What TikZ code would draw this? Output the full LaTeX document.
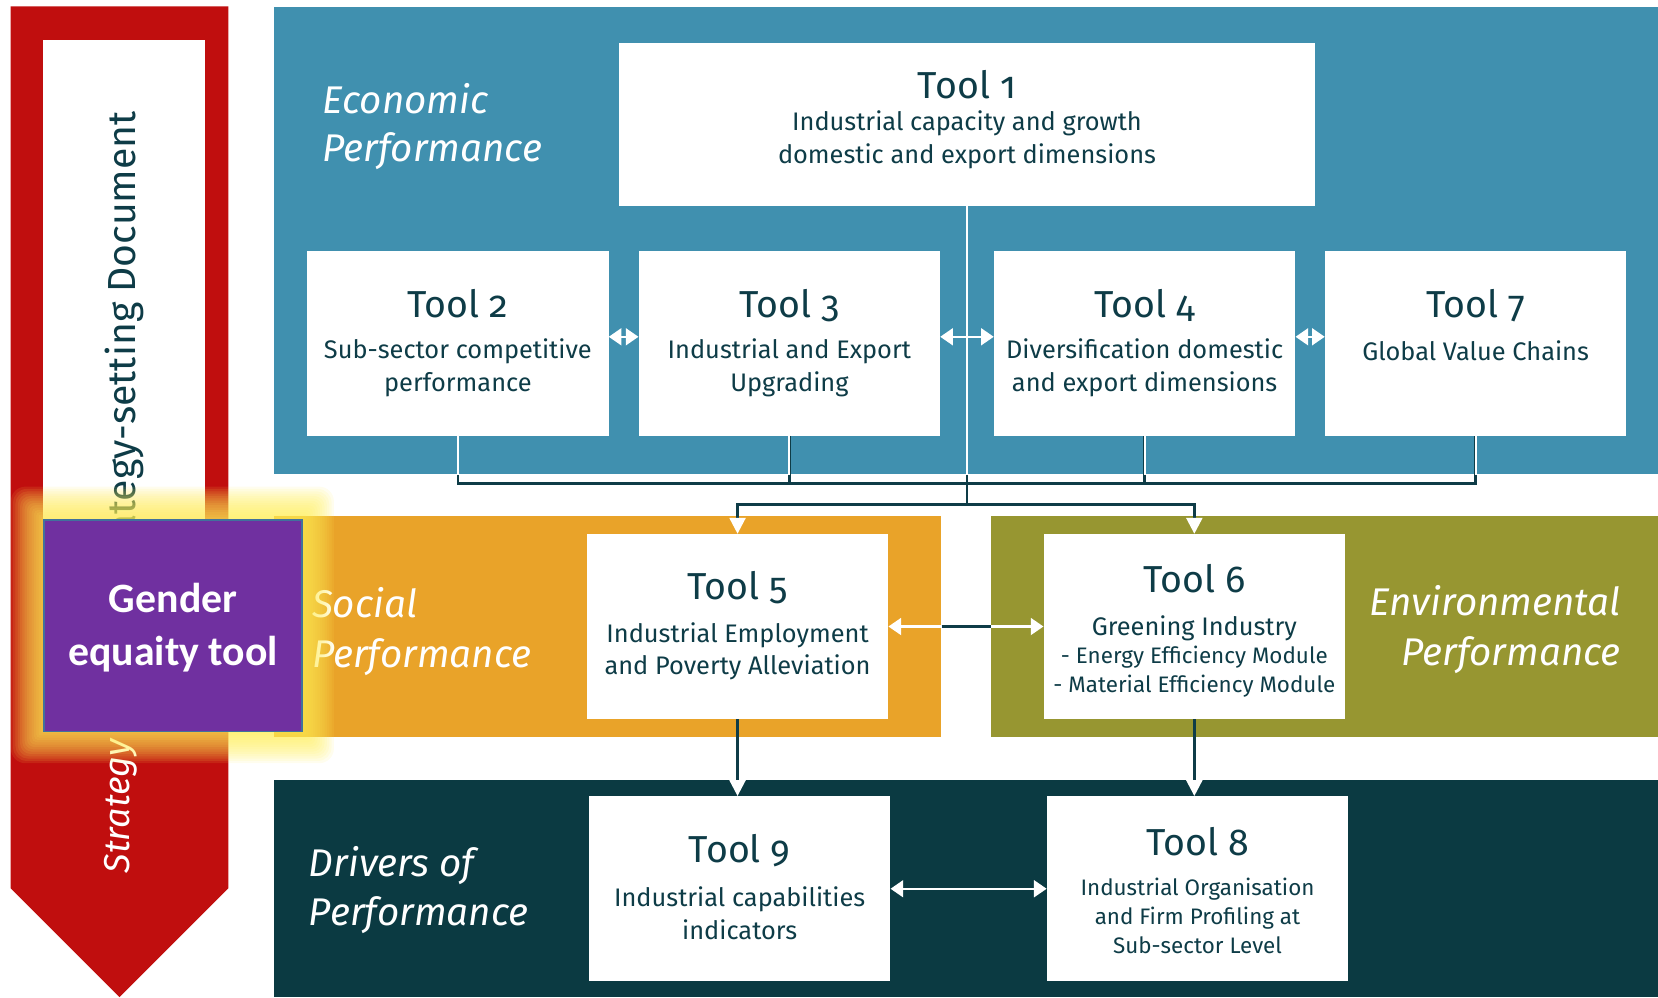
\documentclass[tikz,border=0pt]{standalone}
\usepackage{fontspec}
\setmainfont{Fira Sans}[Numbers=OldStyle]
\newfontfamily\calib{Carlito}
\usetikzlibrary{arrows.meta}
\definecolor{blueP}{HTML}{4090AF}
\definecolor{orangeP}{HTML}{E9A329}
\definecolor{oliveP}{HTML}{979631}
\definecolor{drivP}{HTML}{0B3A42}
\definecolor{redA}{HTML}{C00E0E}
\definecolor{tdark}{HTML}{0E3C47}
\definecolor{purpleG}{HTML}{7030A0}
\definecolor{purpB}{HTML}{41719C}
\definecolor{glowY}{HTML}{FFEE55}
\begin{document}
\begin{tikzpicture}[x=1pt,y=-1pt,
  panel/.style={inner sep=0pt, anchor=north west},
  box/.style={fill=white, inner sep=0pt, minimum width=285pt, minimum height=175pt},
  ttl/.style={text=tdark, font=\fontsize{35.5}{42}\selectfont, anchor=base, inner sep=0pt},
  body/.style={text=tdark, font=\fontsize{24}{31}\selectfont, align=center, inner sep=0pt},
  smallbody/.style={text=tdark, font=\fontsize{21.2}{27.5}\selectfont, align=center, inner sep=0pt},
  lab/.style={text=white, font=\itshape\fontsize{36.5}{46}\selectfont, inner sep=0pt},
  conn/.style={draw=tdark, line width=2.4pt},
  wline/.style={draw=white, line width=2pt},
  wtip/.style={-{Triangle[width=15pt,length=15pt,color=white]}},
  dtip/.style={{Triangle[width=16pt,length=12pt,color=white]}-{Triangle[width=16pt,length=12pt,color=white]}},
]
\useasboundingbox (0,0) rectangle (1568,943);
% panels
\node[panel, fill=blueP, minimum width=1309pt, minimum height=442pt] (econ) at (259,6) {};
\node[panel, fill=orangeP, minimum width=631pt, minimum height=209pt] (social) at (259,488) {};
\node[panel, fill=oliveP, minimum width=631pt, minimum height=209pt] (env) at (937,488) {};
\node[panel, fill=drivP, minimum width=1309pt, minimum height=206pt] (driv) at (259,737) {};
% red arrow
\fill[redA] (10,6) -- (216,6) -- (216,840) -- (113,943) -- (10,840) -- cycle;
\fill[white] (41,38) rectangle (194,600);
\node[rotate=90, anchor=base east, text=tdark, font=\fontsize{37}{40}\selectfont, inner sep=0pt] (doc) at (128,105) {Strategy-setting Document};
\node[rotate=90, anchor=base west, text=white, font=\itshape\fontsize{34}{40}\selectfont, inner sep=0pt] (strat) at (122,826) {Strategy};
% panel labels
\node[lab, anchor=base west] (ecoA) at (305,107) {Economic};
\node[lab, anchor=base west] (ecoB) at (305,153) {Performance};
\node[lab, anchor=base west] (socA) at (295,584) {Social};
\node[lab, anchor=base west] (socB) at (295,631) {Performance};
\node[lab, anchor=base east] (envA) at (1533,582) {Environmental};
\node[lab, anchor=base east] (envB) at (1533,629) {Performance};
\node[lab, anchor=base west] (drvA) at (292,829) {Drivers of};
\node[lab, anchor=base west] (drvB) at (292,875) {Performance};
% tool boxes
\node[box, minimum width=659pt, minimum height=154pt] (t1) at (914.5,118) {};
\node[box] (t2) at (433,324.5) {};
\node[box] (t3) at (746.5,324.5) {};
\node[box] (t4) at (1082.5,324.5) {};
\node[box] (t7) at (1395.5,324.5) {};
\node[box] (t5) at (697.5,592.5) {};
\node[box] (t6) at (1129.5,592.5) {};
\node[box] (t9) at (699.5,840.5) {};
\node[box] (t8) at (1132.5,840.5) {};
% tool texts
\node[ttl] (t1t) at (914.5,93) {Tool 1};
\node[body] (t1b) at (914.5,132) {Industrial capacity and growth\\domestic and export dimensions};
\node[ttl] (t2t) at (433,300) {Tool 2};
\node[body] (t2b) at (433,348) {Sub-sector competitive\\performance};
\node[ttl] (t3t) at (746.5,300) {Tool 3};
\node[body] (t3b) at (746.5,348) {Industrial and Export\\Upgrading};
\node[ttl] (t4t) at (1082.5,300) {Tool 4};
\node[body] (t4b) at (1082.5,348) {Diversification domestic\\and export dimensions};
\node[ttl] (t7t) at (1395.5,300) {Tool 7};
\node[body] (t7b) at (1395.5,332) {Global Value Chains};
\node[ttl] (t5t) at (697.5,567) {Tool 5};
\node[body] (t5b) at (697.5,616) {Industrial Employment\\and Poverty Alleviation};
\node[ttl] (t6t) at (1129.5,560) {Tool 6};
\node[body] (t6b) at (1129.5,594) {Greening Industry};
\node[smallbody] (t6c) at (1129.5,635) {- Energy Efficiency Module\\- Material Efficiency Module};
\node[ttl] (t9t) at (699.5,816) {Tool 9};
\node[body] (t9b) at (699.5,864) {Industrial capabilities\\indicators};
\node[ttl] (t8t) at (1132.5,809) {Tool 8};
\node[smallbody] (t8b) at (1132.5,866) {Industrial Organisation\\and Firm Profiling at\\Sub-sector Level};
% connectors
\coordinate (brk) at (0,457);
\coordinate (j1) at (914.5,477);
\draw[conn] (t1.south) -- (j1);
\draw[conn] (t2.south) -- (t2.south |- brk) -- (t7.south |- brk) -- (t7.south);
\draw[conn] (t3.south) -- (t3.south |- brk);
\draw[conn] (t4.south) -- (t4.south |- brk);
\draw[conn, wtip] (j1) -| (t5.north);
\draw[conn, wtip] (j1) -| (t6.north);
\begin{scope}
  \clip (econ.north west) rectangle (econ.south east);
  \draw[wline] (t1.south) -- (j1);
  \draw[wline] (t2.south) -- (t2.south |- brk);
  \draw[wline] (t3.south) -- (t3.south |- brk);
  \draw[wline] (t4.south) -- (t4.south |- brk);
  \draw[wline] (t7.south) -- (t7.south |- brk);
\end{scope}
\draw[wline, dtip] ([yshift=6pt]t2.east) -- ([yshift=6pt]t3.west);
\draw[wline, dtip] ([yshift=6pt]t3.east) -- ([yshift=6pt]t4.west);
\draw[wline, dtip] ([yshift=6pt]t4.east) -- ([yshift=6pt]t7.west);
\draw[wline, dtip] (t5.east) -- (t6.west);
\draw[conn] (social.east |- t5.east) -- (env.west |- t5.east);
\draw[wline, dtip] (t9.east) -- (t8.west);
\draw[conn, wtip] (t5.south) -- (t5.south |- t9.north);
\draw[conn, wtip] (t6.south) -- (t6.south |- t8.north);
% glow
\foreach \i in {1,...,14} {
  \fill[glowY, opacity=0.1, rounded corners=\i pt] ({41-2.2*\i},{491-2.2*\i}) rectangle ({285+2.2*\i},{691+2.2*\i});
}
% gender equity box
\node[panel, draw=purpB, line width=1.5pt, fill=purpleG, minimum width=244pt, minimum height=200pt] (gender) at (41,491) {};
\node[text=white, font=\calib\bfseries\fontsize{39.5}{50}\selectfont, align=center, inner sep=0pt] (gtxt) at ([yshift=-2pt]gender.center) {Gender\\equaity tool};
\end{tikzpicture}
\end{document}
